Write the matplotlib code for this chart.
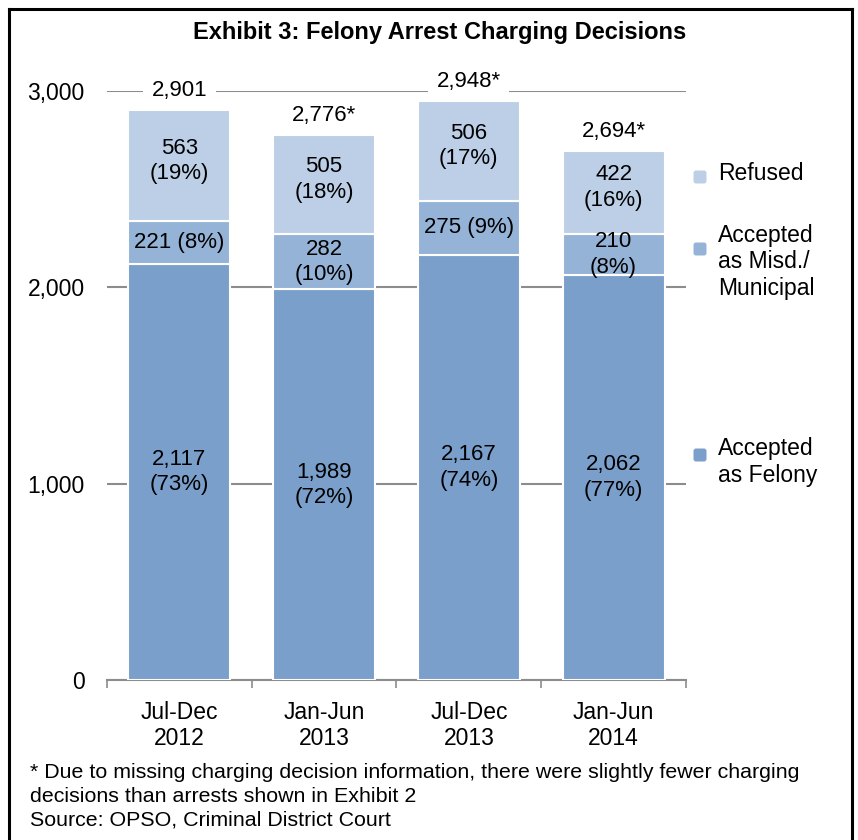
import numpy as np
import matplotlib.pyplot as plt
from matplotlib.patches import FancyBboxPatch
from matplotlib.lines import Line2D

plt.rcParams['font.family'] = ['Liberation Sans', 'DejaVu Sans']

# Data
periods = ["Jul-Dec\n2012", "Jan-Jun\n2013", "Jul-Dec\n2013", "Jan-Jun\n2014"]
felony = [2117, 1989, 2167, 2062]
misd = [221, 282, 275, 210]
refused = [563, 505, 506, 422]
felony_pct = ["73%", "72%", "74%", "77%"]
misd_pct = ["8%", "10%", "9%", "8%"]
refused_pct = ["19%", "18%", "17%", "16%"]
totals = ["2,901", "2,776*", "2,948*", "2,694*"]
misd_oneline = [True, False, True, False]

c_fel = "#7a9fcb"
c_misd = "#95b3d7"
c_ref = "#bccfe6"

W, H = 858, 840
fig = plt.figure(figsize=(W / 100, H / 100), dpi=100)
ax = fig.add_axes([107 / W, 1 - 680 / H, (686 - 107) / W, (680 - 91) / H])

x = np.arange(len(periods))
bw = 0.705

ax.bar(x, felony, bw, color=c_fel, edgecolor="white", linewidth=1.5, zorder=3)
ax.bar(x, misd, bw, bottom=felony, color=c_misd, edgecolor="white", linewidth=1.5, zorder=3)
bot2 = np.array(felony) + np.array(misd)
ax.bar(x, refused, bw, bottom=bot2, color=c_ref, edgecolor="white", linewidth=1.5, zorder=3)

fs = 16
ls = 1.28
for i in range(len(x)):
    ax.text(x[i], felony[i] / 2, "{:,}\n({})".format(felony[i], felony_pct[i]),
            ha="center", va="center", fontsize=fs, linespacing=ls, zorder=4)
    if misd_oneline[i]:
        s = "{} ({})".format(misd[i], misd_pct[i])
    else:
        s = "{}\n({})".format(misd[i], misd_pct[i])
    ax.text(x[i], felony[i] + misd[i] / 2, s,
            ha="center", va="center", fontsize=fs, linespacing=ls, zorder=4)
    ax.text(x[i], bot2[i] + refused[i] / 2 + 25, "{}\n({})".format(refused[i], refused_pct[i]),
            ha="center", va="center", fontsize=fs, linespacing=ls, zorder=4)
    tot = bot2[i] + refused[i]
    ax.annotate(totals[i], (x[i], tot), xytext=(0, 14), textcoords="offset points",
                ha="center", va="center", fontsize=fs, zorder=4,
                bbox=dict(facecolor="white", edgecolor="none", pad=6))

ax.set_xlim(-0.5, 3.5)
ax.set_ylim(0, 3000)
ax.set_yticks([0, 1000, 2000, 3000])
ax.set_yticklabels(["0", "1,000", "2,000", "3,000"], fontsize=16.5)
ax.tick_params(axis="y", length=0, pad=16)
ax.yaxis.grid(True, color="#8c8c8c", linewidth=1.5, zorder=0)
ax.set_axisbelow(True)

ax.set_xticks(np.arange(-0.5, 4, 1))
ax.set_xticklabels([])
ax.set_xticks(x, minor=True)
ax.set_xticklabels(periods, minor=True, fontsize=16.5, linespacing=1.2)
ax.tick_params(axis="x", which="major", length=6, width=1.2, color="#8c8c8c", direction="out")
ax.tick_params(axis="x", which="minor", length=0, pad=15)

for sp in ["left", "right", "top"]:
    ax.spines[sp].set_visible(False)
ax.spines["bottom"].set_color("#8c8c8c")
ax.spines["bottom"].set_linewidth(1.5)

# Title
fig.text(440 / W, 1 - 32 / H, "Exhibit 3: Felony Arrest Charging Decisions",
         ha="center", va="center", fontsize=17, fontweight="bold")

# Legend drawn by hand to keep the uneven spacing
leg_labels = ["Refused", "Accepted\nas Misd./\nMunicipal", "Accepted\nas Felony"]
leg_colors = [c_ref, c_misd, c_fel]
leg_box_y = [177, 249, 455]
leg_text_y = [173, 262, 462]
for lab, col, by, ty in zip(leg_labels, leg_colors, leg_box_y, leg_text_y):
    sq = 13
    fig.patches.append(FancyBboxPatch(((700 - sq / 2) / W, 1 - (by + sq / 2) / H), sq / W, sq / H,
                                      boxstyle="round,pad=0,rounding_size=0.003",
                                      transform=fig.transFigure, facecolor=col, edgecolor="none"))
    fig.text(718 / W, 1 - ty / H, lab, ha="left", va="center", fontsize=16.5, linespacing=1.18)

# Footnotes
fig.text(30 / W, 1 - 773 / H,
         "* Due to missing charging decision information, there were slightly fewer charging",
         ha="left", va="center", fontsize=15.4)
fig.text(30 / W, 1 - 796 / H, "decisions than arrests shown in Exhibit 2",
         ha="left", va="center", fontsize=15.4)
fig.text(30 / W, 1 - 820 / H, "Source: OPSO, Criminal District Court",
         ha="left", va="center", fontsize=15.4)

# Outer border
bx0, bx1, by0 = 9 / W, 852 / W, 1 - 9 / H
for xs, ys in [([bx0, bx0], [0, by0]), ([bx0, bx1], [by0, by0]), ([bx1, bx1], [by0, 0])]:
    fig.add_artist(Line2D(xs, ys, transform=fig.transFigure, color="black", linewidth=2.2))

fig.savefig("out.png", dpi=100)
